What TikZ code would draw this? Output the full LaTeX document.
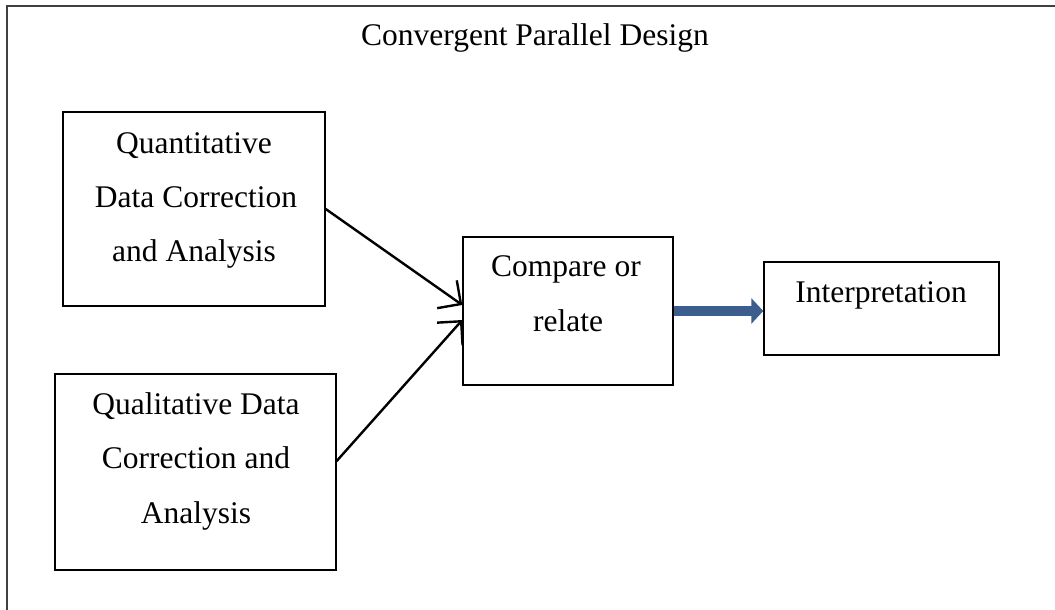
\documentclass[tikz,border=0pt]{standalone}
\usepackage{fontspec}
\setmainfont{Liberation Serif}
\usetikzlibrary{arrows.meta}
\definecolor{framegray}{HTML}{404040}
\definecolor{flowblue}{HTML}{3B5E8E}
\tikzset{
  stagebox/.style={draw=black, line width=1.4pt, rectangle, inner sep=0pt},
  txt/.style={anchor=base, inner sep=0pt, font=\fontsize{31.5}{36}\selectfont},
  feed/.style={line width=2.4pt, line cap=round, -{Straight Barb[length=17pt,width=34pt]}},
  flow/.style={line width=10pt, draw=flowblue, -{Triangle[length=12pt,width=25pt]}}
}
\begin{document}
\begin{tikzpicture}[x=1pt,y=1pt]
\useasboundingbox (0,0) rectangle (1055,-610);
% open outer frame
\coordinate (fbl) at (7,-610);
\coordinate (ftl) at (7,-6);
\coordinate (ftr) at (1055,-6);
\draw[framegray, line width=1.6pt] (fbl) -- (ftl) -- (ftr);

\node[txt] (title) at (535,-46) {Convergent Parallel Design};

% stages
\node[stagebox, minimum width=262pt, minimum height=194pt] (qn) at (194,-209) {};
\node[stagebox, minimum width=281pt, minimum height=196pt] (ql) at (195.5,-472) {};
\node[stagebox, minimum width=210pt, minimum height=148pt] (cmp) at (568,-311) {};
\node[stagebox, minimum width=235pt, minimum height=93pt] (itp) at (881.5,-308.5) {};

\node[txt] (qn1) at (194,-153) {Quantitative};
\node[txt] (qn2) at (196,-207) {Data Correction};
\node[txt] (qn3) at (194,-261) {and Analysis};

\node[txt] (ql1) at (196,-414) {Qualitative Data};
\node[txt] (ql2) at (196,-468) {Correction and};
\node[txt] (ql3) at (196,-523) {Analysis};

\node[txt] (cmp1) at (566,-276) {Compare or};
\node[txt] (cmp2) at (568,-331) {relate};

\node[txt] (itp1) at (881,-302) {Interpretation};

% connectors
\draw[feed] (qn.east) -- ([yshift=6pt]cmp.west);
\draw[feed] ([yshift=11pt]ql.east) -- ([yshift=-9pt]cmp.west);
\draw[flow] (cmp.east) -- ([yshift=-2.5pt]itp.west);
\end{tikzpicture}
\end{document}
